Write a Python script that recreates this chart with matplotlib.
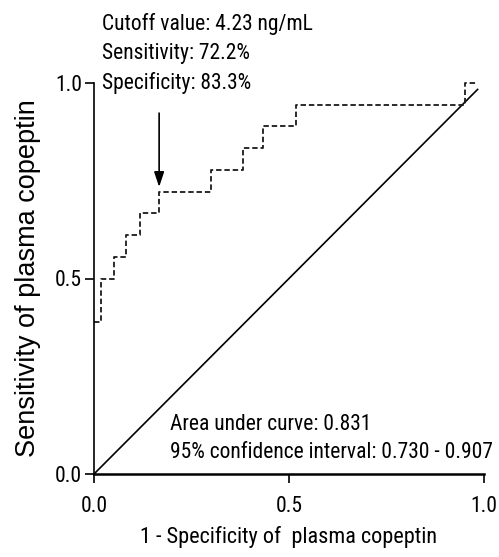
import matplotlib
matplotlib.use("Agg")
import matplotlib.pyplot as plt

narrow = ['Roboto Condensed', 'Archivo Narrow', 'Liberation Sans', 'DejaVu Sans']
wide = ['Liberation Sans', 'DejaVu Sans']

# ROC data (1 - specificity, sensitivity)
fpr = [0.0, 0.017, 0.05, 0.083, 0.117, 0.167, 0.30, 0.383, 0.433, 0.517, 0.95, 0.983]
tpr = [0.389, 0.50, 0.556, 0.611, 0.667, 0.722, 0.778, 0.833, 0.889, 0.944, 1.0, 1.0]
ref_x = [0.0, 0.985]
ref_y = [0.0, 0.985]
cutoff = (0.167, 0.722)
xticks = [0.0, 0.5, 1.0]
yticks = [0.0, 0.5, 1.0]
tick_labels = ['0.0', '0.5', '1.0']

fig = plt.figure(figsize=(4.99, 5.57), dpi=100)
ax = fig.add_axes([94/499, 1-474/557, 390/499, 391/557])
ax.set_xlim(0, 1)
ax.set_ylim(0, 1)

ax.plot(ref_x, ref_y, color='black', lw=1.2, solid_capstyle='butt', clip_on=False)
ax.plot(fpr, tpr, drawstyle='steps-post', color='#1a1a1a', lw=1.3,
        dashes=(3.0, 1.6), clip_on=False)

ax.annotate('', xy=(cutoff[0], cutoff[1] + 0.012), xytext=(cutoff[0], 0.923),
            arrowprops=dict(arrowstyle='-|>,head_length=0.9,head_width=0.3',
                            color='black', lw=1.2, shrinkA=0, shrinkB=0))

fs = 15.5
tf = dict(family=narrow, fontsize=fs, color='black')
ax.text(0.195, 0.126, 'Area under curve: 0.831', ha='left', va='center', **tf)
ax.text(0.195, 0.054, '95% confidence interval: 0.730 - 0.907', ha='left', va='center', **tf)
ax.text(0.02, 1.150, 'Cutoff value: 4.23 ng/mL', ha='left', va='center', **tf)
ax.text(0.02, 1.075, 'Sensitivity: 72.2%', ha='left', va='center', **tf)
ax.text(0.02, 1.000, 'Specificity: 83.3%', ha='left', va='center', **tf)

for s in ['top', 'right']:
    ax.spines[s].set_visible(False)
ax.spines['left'].set_linewidth(1.2)
ax.spines['bottom'].set_linewidth(1.8)
ax.spines['left'].set_bounds(0, 1)
ax.spines['bottom'].set_bounds(0, 1)
ax.set_xticks(xticks)
ax.set_yticks(yticks)
ax.set_xticklabels(tick_labels, family=narrow, fontsize=fs)
ax.set_yticklabels(tick_labels, family=narrow, fontsize=fs)
ax.tick_params(axis='both', direction='out', length=6.5, width=1.2, pad=2)
ax.tick_params(axis='x', pad=9)

ax.set_xlabel('1 - Specificity of  plasma copeptin', family=narrow, fontsize=16, labelpad=7)
ax.set_ylabel('Sensitivity of plasma copeptin', family=wide, fontsize=19.5, labelpad=10)

fig.savefig('out.png', dpi=100)
